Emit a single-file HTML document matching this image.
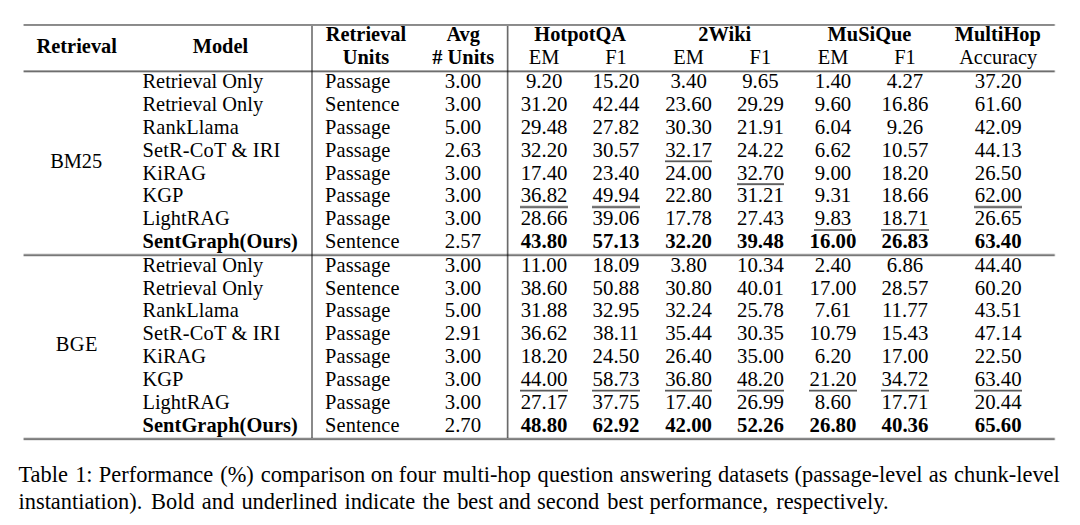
<!DOCTYPE html>
<html><head><meta charset="utf-8"><style>
html,body{margin:0;padding:0;background:#fff;}
body{width:1080px;height:525px;position:relative;overflow:hidden;font-family:"Liberation Serif","Times New Roman",serif;color:#000;}
.t{position:absolute;font-size:20.4px;line-height:24px;white-space:nowrap;}
.c{width:300px;text-align:center;}
.b{font-weight:bold;}
.n{font-size:20.8px;}
.r{position:absolute;}
.cap{position:absolute;left:18.5px;font-size:22.4px;line-height:24px;white-space:nowrap;}
</style></head><body>
<div class="t c b" style="left:-73.25px;top:33.70px">Retrieval</div>
<div class="t c b" style="left:70.40px;top:33.70px">Model</div>
<div class="t c b" style="left:216.00px;top:21.70px">Retrieval</div>
<div class="t c b" style="left:216.00px;top:44.60px">Units</div>
<div class="t c b" style="left:313.20px;top:21.70px">Avg</div>
<div class="t c b" style="left:313.20px;top:44.60px"># Units</div>
<div class="t c b" style="left:430.20px;top:21.70px">HotpotQA</div>
<div class="t c b" style="left:574.80px;top:21.70px">2Wiki</div>
<div class="t c b" style="left:719.50px;top:21.70px">MuSiQue</div>
<div class="t c b" style="left:847.80px;top:21.70px">MultiHop</div>
<div class="t c" style="left:394.10px;top:44.60px">EM</div>
<div class="t c" style="left:466.00px;top:44.60px">F1</div>
<div class="t c" style="left:538.60px;top:44.60px">EM</div>
<div class="t c" style="left:610.40px;top:44.60px">F1</div>
<div class="t c" style="left:683.00px;top:44.60px">EM</div>
<div class="t c" style="left:755.00px;top:44.60px">F1</div>
<div class="t c" style="left:848.20px;top:44.60px">Accuracy</div>
<div class="t" style="left:142.50px;top:69.00px">Retrieval Only</div>
<div class="t" style="left:325.00px;top:69.00px"><span style="letter-spacing:0.12px">Passage</span></div>
<div class="t c n" style="left:312.95px;top:69.00px">3.00</div>
<div class="t c n" style="left:394.10px;top:69.00px">9.20</div>
<div class="t c n" style="left:466.00px;top:69.00px">15.20</div>
<div class="t c n" style="left:538.60px;top:69.00px">3.40</div>
<div class="t c n" style="left:610.40px;top:69.00px">9.65</div>
<div class="t c n" style="left:683.00px;top:69.00px">1.40</div>
<div class="t c n" style="left:755.00px;top:69.00px">4.27</div>
<div class="t c n" style="left:848.20px;top:69.00px">37.20</div>
<div class="t" style="left:142.50px;top:92.00px">Retrieval Only</div>
<div class="t" style="left:325.00px;top:92.00px"><span style="letter-spacing:0.12px">Sentence</span></div>
<div class="t c n" style="left:312.95px;top:92.00px">3.00</div>
<div class="t c n" style="left:394.10px;top:92.00px">31.20</div>
<div class="t c n" style="left:466.00px;top:92.00px">42.44</div>
<div class="t c n" style="left:538.60px;top:92.00px">23.60</div>
<div class="t c n" style="left:610.40px;top:92.00px">29.29</div>
<div class="t c n" style="left:683.00px;top:92.00px">9.60</div>
<div class="t c n" style="left:755.00px;top:92.00px">16.86</div>
<div class="t c n" style="left:848.20px;top:92.00px">61.60</div>
<div class="t" style="left:142.50px;top:115.00px"><span style="letter-spacing:0.16px">RankLlama</span></div>
<div class="t" style="left:325.00px;top:115.00px"><span style="letter-spacing:0.12px">Passage</span></div>
<div class="t c n" style="left:312.95px;top:115.00px">5.00</div>
<div class="t c n" style="left:394.10px;top:115.00px">29.48</div>
<div class="t c n" style="left:466.00px;top:115.00px">27.82</div>
<div class="t c n" style="left:538.60px;top:115.00px">30.30</div>
<div class="t c n" style="left:610.40px;top:115.00px">21.91</div>
<div class="t c n" style="left:683.00px;top:115.00px">6.04</div>
<div class="t c n" style="left:755.00px;top:115.00px">9.26</div>
<div class="t c n" style="left:848.20px;top:115.00px">42.09</div>
<div class="t" style="left:142.50px;top:138.00px"><span style="letter-spacing:0.17px">SetR-CoT &amp; IRI</span></div>
<div class="t" style="left:325.00px;top:138.00px"><span style="letter-spacing:0.12px">Passage</span></div>
<div class="t c n" style="left:312.95px;top:138.00px">2.63</div>
<div class="t c n" style="left:394.10px;top:138.00px">32.20</div>
<div class="t c n" style="left:466.00px;top:138.00px">30.57</div>
<div class="t c n" style="left:538.60px;top:138.00px">32.17</div>
<div class="r" style="left:664.85px;top:160px;width:47.50px;height:1px;background:#a0a0a0"></div>
<div class="r" style="left:664.85px;top:161px;width:47.50px;height:1px;background:#5a5a5a"></div>
<div class="r" style="left:664.85px;top:162px;width:47.50px;height:1px;background:#e0e0e0"></div>
<div class="t c n" style="left:610.40px;top:138.00px">24.22</div>
<div class="t c n" style="left:683.00px;top:138.00px">6.62</div>
<div class="t c n" style="left:755.00px;top:138.00px">10.57</div>
<div class="t c n" style="left:848.20px;top:138.00px">44.13</div>
<div class="t" style="left:142.50px;top:161.00px">KiRAG</div>
<div class="t" style="left:325.00px;top:161.00px"><span style="letter-spacing:0.12px">Passage</span></div>
<div class="t c n" style="left:312.95px;top:161.00px">3.00</div>
<div class="t c n" style="left:394.10px;top:161.00px">17.40</div>
<div class="t c n" style="left:466.00px;top:161.00px">23.40</div>
<div class="t c n" style="left:538.60px;top:161.00px">24.00</div>
<div class="t c n" style="left:610.40px;top:161.00px">32.70</div>
<div class="r" style="left:736.65px;top:183px;width:47.50px;height:1px;background:#808080"></div>
<div class="r" style="left:736.65px;top:184px;width:47.50px;height:1px;background:#606060"></div>
<div class="r" style="left:736.65px;top:185px;width:47.50px;height:1px;background:#e8e8e8"></div>
<div class="t c n" style="left:683.00px;top:161.00px">9.00</div>
<div class="t c n" style="left:755.00px;top:161.00px">18.20</div>
<div class="t c n" style="left:848.20px;top:161.00px">26.50</div>
<div class="t" style="left:142.50px;top:183.00px">KGP</div>
<div class="t" style="left:325.00px;top:183.00px"><span style="letter-spacing:0.12px">Passage</span></div>
<div class="t c n" style="left:312.95px;top:183.00px">3.00</div>
<div class="t c n" style="left:394.10px;top:183.00px">36.82</div>
<div class="r" style="left:520.35px;top:205px;width:47.50px;height:1px;background:#e0e0e0"></div>
<div class="r" style="left:520.35px;top:206px;width:47.50px;height:1px;background:#7a7a7a"></div>
<div class="r" style="left:520.35px;top:207px;width:47.50px;height:1px;background:#6e6e6e"></div>
<div class="r" style="left:520.35px;top:208px;width:47.50px;height:1px;background:#d8d8d8"></div>
<div class="t c n" style="left:466.00px;top:183.00px">49.94</div>
<div class="r" style="left:592.25px;top:205px;width:47.50px;height:1px;background:#e0e0e0"></div>
<div class="r" style="left:592.25px;top:206px;width:47.50px;height:1px;background:#7a7a7a"></div>
<div class="r" style="left:592.25px;top:207px;width:47.50px;height:1px;background:#6e6e6e"></div>
<div class="r" style="left:592.25px;top:208px;width:47.50px;height:1px;background:#d8d8d8"></div>
<div class="t c n" style="left:538.60px;top:183.00px">22.80</div>
<div class="t c n" style="left:610.40px;top:183.00px">31.21</div>
<div class="t c n" style="left:683.00px;top:183.00px">9.31</div>
<div class="t c n" style="left:755.00px;top:183.00px">18.66</div>
<div class="t c n" style="left:848.20px;top:183.00px">62.00</div>
<div class="r" style="left:974.45px;top:205px;width:47.50px;height:1px;background:#e0e0e0"></div>
<div class="r" style="left:974.45px;top:206px;width:47.50px;height:1px;background:#7a7a7a"></div>
<div class="r" style="left:974.45px;top:207px;width:47.50px;height:1px;background:#6e6e6e"></div>
<div class="r" style="left:974.45px;top:208px;width:47.50px;height:1px;background:#d8d8d8"></div>
<div class="t" style="left:142.50px;top:206.00px">LightRAG</div>
<div class="t" style="left:325.00px;top:206.00px"><span style="letter-spacing:0.12px">Passage</span></div>
<div class="t c n" style="left:312.95px;top:206.00px">3.00</div>
<div class="t c n" style="left:394.10px;top:206.00px">28.66</div>
<div class="t c n" style="left:466.00px;top:206.00px">39.06</div>
<div class="t c n" style="left:538.60px;top:206.00px">17.78</div>
<div class="t c n" style="left:610.40px;top:206.00px">27.43</div>
<div class="t c n" style="left:683.00px;top:206.00px">9.83</div>
<div class="r" style="left:814.45px;top:229px;width:37.10px;height:1px;background:#787878"></div>
<div class="r" style="left:814.45px;top:230px;width:37.10px;height:1px;background:#787878"></div>
<div class="t c n" style="left:755.00px;top:206.00px">18.71</div>
<div class="r" style="left:881.25px;top:229px;width:47.50px;height:1px;background:#787878"></div>
<div class="r" style="left:881.25px;top:230px;width:47.50px;height:1px;background:#787878"></div>
<div class="t c n" style="left:848.20px;top:206.00px">26.65</div>
<div class="t b" style="left:142.50px;top:229.00px"><span style="letter-spacing:0.09px">SentGraph(Ours)</span></div>
<div class="t" style="left:325.00px;top:229.00px"><span style="letter-spacing:0.12px">Sentence</span></div>
<div class="t c n" style="left:312.95px;top:229.00px">2.57</div>
<div class="t c b n" style="left:394.10px;top:229.00px">43.80</div>
<div class="t c b n" style="left:466.00px;top:229.00px">57.13</div>
<div class="t c b n" style="left:538.60px;top:229.00px">32.20</div>
<div class="t c b n" style="left:610.40px;top:229.00px">39.48</div>
<div class="t c b n" style="left:683.00px;top:229.00px">16.00</div>
<div class="t c b n" style="left:755.00px;top:229.00px">26.83</div>
<div class="t c b n" style="left:848.20px;top:229.00px">63.40</div>
<div class="t" style="left:142.50px;top:253.00px">Retrieval Only</div>
<div class="t" style="left:325.00px;top:253.00px"><span style="letter-spacing:0.12px">Passage</span></div>
<div class="t c n" style="left:312.95px;top:253.00px">3.00</div>
<div class="t c n" style="left:394.10px;top:253.00px">11.00</div>
<div class="t c n" style="left:466.00px;top:253.00px">18.09</div>
<div class="t c n" style="left:538.60px;top:253.00px">3.80</div>
<div class="t c n" style="left:610.40px;top:253.00px">10.34</div>
<div class="t c n" style="left:683.00px;top:253.00px">2.40</div>
<div class="t c n" style="left:755.00px;top:253.00px">6.86</div>
<div class="t c n" style="left:848.20px;top:253.00px">44.40</div>
<div class="t" style="left:142.50px;top:276.00px">Retrieval Only</div>
<div class="t" style="left:325.00px;top:276.00px"><span style="letter-spacing:0.12px">Sentence</span></div>
<div class="t c n" style="left:312.95px;top:276.00px">3.00</div>
<div class="t c n" style="left:394.10px;top:276.00px">38.60</div>
<div class="t c n" style="left:466.00px;top:276.00px">50.88</div>
<div class="t c n" style="left:538.60px;top:276.00px">30.80</div>
<div class="t c n" style="left:610.40px;top:276.00px">40.01</div>
<div class="t c n" style="left:683.00px;top:276.00px">17.00</div>
<div class="t c n" style="left:755.00px;top:276.00px">28.57</div>
<div class="t c n" style="left:848.20px;top:276.00px">60.20</div>
<div class="t" style="left:142.50px;top:298.00px"><span style="letter-spacing:0.16px">RankLlama</span></div>
<div class="t" style="left:325.00px;top:298.00px"><span style="letter-spacing:0.12px">Passage</span></div>
<div class="t c n" style="left:312.95px;top:298.00px">5.00</div>
<div class="t c n" style="left:394.10px;top:298.00px">31.88</div>
<div class="t c n" style="left:466.00px;top:298.00px">32.95</div>
<div class="t c n" style="left:538.60px;top:298.00px">32.24</div>
<div class="t c n" style="left:610.40px;top:298.00px">25.78</div>
<div class="t c n" style="left:683.00px;top:298.00px">7.61</div>
<div class="t c n" style="left:755.00px;top:298.00px">11.77</div>
<div class="t c n" style="left:848.20px;top:298.00px">43.51</div>
<div class="t" style="left:142.50px;top:321.00px"><span style="letter-spacing:0.17px">SetR-CoT &amp; IRI</span></div>
<div class="t" style="left:325.00px;top:321.00px"><span style="letter-spacing:0.12px">Passage</span></div>
<div class="t c n" style="left:312.95px;top:321.00px">2.91</div>
<div class="t c n" style="left:394.10px;top:321.00px">36.62</div>
<div class="t c n" style="left:466.00px;top:321.00px">38.11</div>
<div class="t c n" style="left:538.60px;top:321.00px">35.44</div>
<div class="t c n" style="left:610.40px;top:321.00px">30.35</div>
<div class="t c n" style="left:683.00px;top:321.00px">10.79</div>
<div class="t c n" style="left:755.00px;top:321.00px">15.43</div>
<div class="t c n" style="left:848.20px;top:321.00px">47.14</div>
<div class="t" style="left:142.50px;top:344.00px">KiRAG</div>
<div class="t" style="left:325.00px;top:344.00px"><span style="letter-spacing:0.12px">Passage</span></div>
<div class="t c n" style="left:312.95px;top:344.00px">3.00</div>
<div class="t c n" style="left:394.10px;top:344.00px">18.20</div>
<div class="t c n" style="left:466.00px;top:344.00px">24.50</div>
<div class="t c n" style="left:538.60px;top:344.00px">26.40</div>
<div class="t c n" style="left:610.40px;top:344.00px">35.00</div>
<div class="t c n" style="left:683.00px;top:344.00px">6.20</div>
<div class="t c n" style="left:755.00px;top:344.00px">17.00</div>
<div class="t c n" style="left:848.20px;top:344.00px">22.50</div>
<div class="t" style="left:142.50px;top:367.00px">KGP</div>
<div class="t" style="left:325.00px;top:367.00px"><span style="letter-spacing:0.12px">Passage</span></div>
<div class="t c n" style="left:312.95px;top:367.00px">3.00</div>
<div class="t c n" style="left:394.10px;top:367.00px">44.00</div>
<div class="r" style="left:520.35px;top:389px;width:47.50px;height:1px;background:#d8d8d8"></div>
<div class="r" style="left:520.35px;top:390px;width:47.50px;height:1px;background:#5a5a5a"></div>
<div class="r" style="left:520.35px;top:391px;width:47.50px;height:1px;background:#a8a8a8"></div>
<div class="t c n" style="left:466.00px;top:367.00px">58.73</div>
<div class="r" style="left:592.25px;top:389px;width:47.50px;height:1px;background:#d8d8d8"></div>
<div class="r" style="left:592.25px;top:390px;width:47.50px;height:1px;background:#5a5a5a"></div>
<div class="r" style="left:592.25px;top:391px;width:47.50px;height:1px;background:#a8a8a8"></div>
<div class="t c n" style="left:538.60px;top:367.00px">36.80</div>
<div class="r" style="left:664.85px;top:389px;width:47.50px;height:1px;background:#d8d8d8"></div>
<div class="r" style="left:664.85px;top:390px;width:47.50px;height:1px;background:#5a5a5a"></div>
<div class="r" style="left:664.85px;top:391px;width:47.50px;height:1px;background:#a8a8a8"></div>
<div class="t c n" style="left:610.40px;top:367.00px">48.20</div>
<div class="r" style="left:736.65px;top:389px;width:47.50px;height:1px;background:#d8d8d8"></div>
<div class="r" style="left:736.65px;top:390px;width:47.50px;height:1px;background:#5a5a5a"></div>
<div class="r" style="left:736.65px;top:391px;width:47.50px;height:1px;background:#a8a8a8"></div>
<div class="t c n" style="left:683.00px;top:367.00px">21.20</div>
<div class="r" style="left:809.25px;top:389px;width:47.50px;height:1px;background:#d8d8d8"></div>
<div class="r" style="left:809.25px;top:390px;width:47.50px;height:1px;background:#5a5a5a"></div>
<div class="r" style="left:809.25px;top:391px;width:47.50px;height:1px;background:#a8a8a8"></div>
<div class="t c n" style="left:755.00px;top:367.00px">34.72</div>
<div class="r" style="left:881.25px;top:389px;width:47.50px;height:1px;background:#d8d8d8"></div>
<div class="r" style="left:881.25px;top:390px;width:47.50px;height:1px;background:#5a5a5a"></div>
<div class="r" style="left:881.25px;top:391px;width:47.50px;height:1px;background:#a8a8a8"></div>
<div class="t c n" style="left:848.20px;top:367.00px">63.40</div>
<div class="r" style="left:974.45px;top:389px;width:47.50px;height:1px;background:#d8d8d8"></div>
<div class="r" style="left:974.45px;top:390px;width:47.50px;height:1px;background:#5a5a5a"></div>
<div class="r" style="left:974.45px;top:391px;width:47.50px;height:1px;background:#a8a8a8"></div>
<div class="t" style="left:142.50px;top:390.00px">LightRAG</div>
<div class="t" style="left:325.00px;top:390.00px"><span style="letter-spacing:0.12px">Passage</span></div>
<div class="t c n" style="left:312.95px;top:390.00px">3.00</div>
<div class="t c n" style="left:394.10px;top:390.00px">27.17</div>
<div class="t c n" style="left:466.00px;top:390.00px">37.75</div>
<div class="t c n" style="left:538.60px;top:390.00px">17.40</div>
<div class="t c n" style="left:610.40px;top:390.00px">26.99</div>
<div class="t c n" style="left:683.00px;top:390.00px">8.60</div>
<div class="t c n" style="left:755.00px;top:390.00px">17.71</div>
<div class="t c n" style="left:848.20px;top:390.00px">20.44</div>
<div class="t b" style="left:142.50px;top:413.00px"><span style="letter-spacing:0.09px">SentGraph(Ours)</span></div>
<div class="t" style="left:325.00px;top:413.00px"><span style="letter-spacing:0.12px">Sentence</span></div>
<div class="t c n" style="left:312.95px;top:413.00px">2.70</div>
<div class="t c b n" style="left:394.10px;top:413.00px">48.80</div>
<div class="t c b n" style="left:466.00px;top:413.00px">62.92</div>
<div class="t c b n" style="left:538.60px;top:413.00px">42.00</div>
<div class="t c b n" style="left:610.40px;top:413.00px">52.26</div>
<div class="t c b n" style="left:683.00px;top:413.00px">26.80</div>
<div class="t c b n" style="left:755.00px;top:413.00px">40.36</div>
<div class="t c b n" style="left:848.20px;top:413.00px">65.60</div>
<div class="t c" style="left:-73.80px;top:149.00px">BM25</div>
<div class="t c" style="left:-73.40px;top:332.00px"><span style="letter-spacing:0.4px;margin-right:-0.4px">BGE</span></div>
<div class="r" style="left:24px;top:24px;width:1030px;height:1px;background:#8a8a8a"></div>
<div class="r" style="left:24px;top:25px;width:1030px;height:1px;background:#8e8e8e"></div>
<div class="r" style="left:24px;top:70px;width:287px;height:1px;background:#a8a8a8"></div>
<div class="r" style="left:313px;top:70px;width:193px;height:1px;background:#a8a8a8"></div>
<div class="r" style="left:509px;top:70px;width:545px;height:1px;background:#a8a8a8"></div>
<div class="r" style="left:24px;top:71px;width:287px;height:1px;background:#6e6e6e"></div>
<div class="r" style="left:313px;top:71px;width:193px;height:1px;background:#6e6e6e"></div>
<div class="r" style="left:509px;top:71px;width:545px;height:1px;background:#6e6e6e"></div>
<div class="r" style="left:24px;top:72px;width:287px;height:1px;background:#d0d0d0"></div>
<div class="r" style="left:313px;top:72px;width:193px;height:1px;background:#d0d0d0"></div>
<div class="r" style="left:509px;top:72px;width:545px;height:1px;background:#d0d0d0"></div>
<div class="r" style="left:24px;top:253px;width:287px;height:1px;background:#e8e8e8"></div>
<div class="r" style="left:313px;top:253px;width:193px;height:1px;background:#e8e8e8"></div>
<div class="r" style="left:509px;top:253px;width:545px;height:1px;background:#e8e8e8"></div>
<div class="r" style="left:24px;top:254px;width:287px;height:1px;background:#9a9a9a"></div>
<div class="r" style="left:313px;top:254px;width:193px;height:1px;background:#9a9a9a"></div>
<div class="r" style="left:509px;top:254px;width:545px;height:1px;background:#9a9a9a"></div>
<div class="r" style="left:24px;top:255px;width:287px;height:1px;background:#787878"></div>
<div class="r" style="left:313px;top:255px;width:193px;height:1px;background:#787878"></div>
<div class="r" style="left:509px;top:255px;width:545px;height:1px;background:#787878"></div>
<div class="r" style="left:24px;top:256px;width:287px;height:1px;background:#e0e0e0"></div>
<div class="r" style="left:313px;top:256px;width:193px;height:1px;background:#e0e0e0"></div>
<div class="r" style="left:509px;top:256px;width:545px;height:1px;background:#e0e0e0"></div>
<div class="r" style="left:24px;top:437px;width:287px;height:1px;background:#e0e0e0"></div>
<div class="r" style="left:313px;top:437px;width:193px;height:1px;background:#e0e0e0"></div>
<div class="r" style="left:509px;top:437px;width:545px;height:1px;background:#e0e0e0"></div>
<div class="r" style="left:24px;top:438px;width:1030px;height:1px;background:#8a8a8a"></div>
<div class="r" style="left:24px;top:439px;width:1030px;height:1px;background:#7c7c7c"></div>
<div class="r" style="left:24px;top:440px;width:1030px;height:1px;background:#e8e8e8"></div>
<div class="r" style="left:23px;top:24px;width:1px;height:1px;background:#cacaca"></div>
<div class="r" style="left:23px;top:25px;width:1px;height:1px;background:#cccccc"></div>
<div class="r" style="left:23px;top:70px;width:1px;height:1px;background:#d8d8d8"></div>
<div class="r" style="left:23px;top:71px;width:1px;height:1px;background:#bebebe"></div>
<div class="r" style="left:23px;top:72px;width:1px;height:1px;background:#eaeaea"></div>
<div class="r" style="left:23px;top:253px;width:1px;height:1px;background:#f5f5f5"></div>
<div class="r" style="left:23px;top:254px;width:1px;height:1px;background:#d2d2d2"></div>
<div class="r" style="left:23px;top:255px;width:1px;height:1px;background:#c2c2c2"></div>
<div class="r" style="left:23px;top:256px;width:1px;height:1px;background:#f1f1f1"></div>
<div class="r" style="left:23px;top:437px;width:1px;height:1px;background:#f1f1f1"></div>
<div class="r" style="left:23px;top:438px;width:1px;height:1px;background:#cacaca"></div>
<div class="r" style="left:23px;top:439px;width:1px;height:1px;background:#c4c4c4"></div>
<div class="r" style="left:23px;top:440px;width:1px;height:1px;background:#f5f5f5"></div>
<div class="r" style="left:311px;top:26px;width:1px;height:44px;background:#8a8a8a"></div>
<div class="r" style="left:311px;top:70px;width:1px;height:1px;background:#5b5b5b"></div>
<div class="r" style="left:311px;top:71px;width:1px;height:1px;background:#3c3c3c"></div>
<div class="r" style="left:311px;top:72px;width:1px;height:1px;background:#717171"></div>
<div class="r" style="left:311px;top:73px;width:1px;height:180px;background:#8a8a8a"></div>
<div class="r" style="left:311px;top:253px;width:1px;height:1px;background:#7e7e7e"></div>
<div class="r" style="left:311px;top:254px;width:1px;height:1px;background:#535353"></div>
<div class="r" style="left:311px;top:255px;width:1px;height:1px;background:#414141"></div>
<div class="r" style="left:311px;top:256px;width:1px;height:1px;background:#797979"></div>
<div class="r" style="left:311px;top:257px;width:1px;height:180px;background:#8a8a8a"></div>
<div class="r" style="left:311px;top:437px;width:1px;height:1px;background:#797979"></div>
<div class="r" style="left:312px;top:26px;width:1px;height:44px;background:#8a8a8a"></div>
<div class="r" style="left:312px;top:70px;width:1px;height:1px;background:#5b5b5b"></div>
<div class="r" style="left:312px;top:71px;width:1px;height:1px;background:#3c3c3c"></div>
<div class="r" style="left:312px;top:72px;width:1px;height:1px;background:#717171"></div>
<div class="r" style="left:312px;top:73px;width:1px;height:180px;background:#8a8a8a"></div>
<div class="r" style="left:312px;top:253px;width:1px;height:1px;background:#7e7e7e"></div>
<div class="r" style="left:312px;top:254px;width:1px;height:1px;background:#535353"></div>
<div class="r" style="left:312px;top:255px;width:1px;height:1px;background:#414141"></div>
<div class="r" style="left:312px;top:256px;width:1px;height:1px;background:#797979"></div>
<div class="r" style="left:312px;top:257px;width:1px;height:180px;background:#8a8a8a"></div>
<div class="r" style="left:312px;top:437px;width:1px;height:1px;background:#797979"></div>
<div class="r" style="left:506px;top:26px;width:1px;height:44px;background:#e0e0e0"></div>
<div class="r" style="left:506px;top:70px;width:1px;height:1px;background:#949494"></div>
<div class="r" style="left:506px;top:71px;width:1px;height:1px;background:#616161"></div>
<div class="r" style="left:506px;top:72px;width:1px;height:1px;background:#b7b7b7"></div>
<div class="r" style="left:506px;top:73px;width:1px;height:180px;background:#e0e0e0"></div>
<div class="r" style="left:506px;top:253px;width:1px;height:1px;background:#cccccc"></div>
<div class="r" style="left:506px;top:254px;width:1px;height:1px;background:#878787"></div>
<div class="r" style="left:506px;top:255px;width:1px;height:1px;background:#696969"></div>
<div class="r" style="left:506px;top:256px;width:1px;height:1px;background:#c5c5c5"></div>
<div class="r" style="left:506px;top:257px;width:1px;height:180px;background:#e0e0e0"></div>
<div class="r" style="left:506px;top:437px;width:1px;height:1px;background:#c5c5c5"></div>
<div class="r" style="left:507px;top:26px;width:1px;height:44px;background:#6a6a6a"></div>
<div class="r" style="left:507px;top:70px;width:1px;height:1px;background:#464646"></div>
<div class="r" style="left:507px;top:71px;width:1px;height:1px;background:#2e2e2e"></div>
<div class="r" style="left:507px;top:72px;width:1px;height:1px;background:#565656"></div>
<div class="r" style="left:507px;top:73px;width:1px;height:180px;background:#6a6a6a"></div>
<div class="r" style="left:507px;top:253px;width:1px;height:1px;background:#606060"></div>
<div class="r" style="left:507px;top:254px;width:1px;height:1px;background:#404040"></div>
<div class="r" style="left:507px;top:255px;width:1px;height:1px;background:#323232"></div>
<div class="r" style="left:507px;top:256px;width:1px;height:1px;background:#5d5d5d"></div>
<div class="r" style="left:507px;top:257px;width:1px;height:180px;background:#6a6a6a"></div>
<div class="r" style="left:507px;top:437px;width:1px;height:1px;background:#5d5d5d"></div>
<div class="r" style="left:508px;top:26px;width:1px;height:44px;background:#b8b8b8"></div>
<div class="r" style="left:508px;top:70px;width:1px;height:1px;background:#797979"></div>
<div class="r" style="left:508px;top:71px;width:1px;height:1px;background:#4f4f4f"></div>
<div class="r" style="left:508px;top:72px;width:1px;height:1px;background:#969696"></div>
<div class="r" style="left:508px;top:73px;width:1px;height:180px;background:#b8b8b8"></div>
<div class="r" style="left:508px;top:253px;width:1px;height:1px;background:#a7a7a7"></div>
<div class="r" style="left:508px;top:254px;width:1px;height:1px;background:#6f6f6f"></div>
<div class="r" style="left:508px;top:255px;width:1px;height:1px;background:#575757"></div>
<div class="r" style="left:508px;top:256px;width:1px;height:1px;background:#a2a2a2"></div>
<div class="r" style="left:508px;top:257px;width:1px;height:180px;background:#b8b8b8"></div>
<div class="r" style="left:508px;top:437px;width:1px;height:1px;background:#a2a2a2"></div>
<div class="r" style="left:1054px;top:24px;width:1px;height:1px;background:#adadad"></div>
<div class="r" style="left:1054px;top:25px;width:1px;height:1px;background:#b0b0b0"></div>
<div class="r" style="left:1054px;top:70px;width:1px;height:1px;background:#c2c2c2"></div>
<div class="r" style="left:1054px;top:71px;width:1px;height:1px;background:#9a9a9a"></div>
<div class="r" style="left:1054px;top:72px;width:1px;height:1px;background:#dedede"></div>
<div class="r" style="left:1054px;top:253px;width:1px;height:1px;background:#efefef"></div>
<div class="r" style="left:1054px;top:254px;width:1px;height:1px;background:#b8b8b8"></div>
<div class="r" style="left:1054px;top:255px;width:1px;height:1px;background:#a0a0a0"></div>
<div class="r" style="left:1054px;top:256px;width:1px;height:1px;background:#e9e9e9"></div>
<div class="r" style="left:1054px;top:437px;width:1px;height:1px;background:#e9e9e9"></div>
<div class="r" style="left:1054px;top:438px;width:1px;height:1px;background:#adadad"></div>
<div class="r" style="left:1054px;top:439px;width:1px;height:1px;background:#a3a3a3"></div>
<div class="r" style="left:1054px;top:440px;width:1px;height:1px;background:#efefef"></div>
<div class="r" style="left:1055px;top:24px;width:1px;height:2px;background:#f1f1f1"></div>
<div class="r" style="left:1055px;top:70px;width:1px;height:1px;background:#f5f5f5"></div>
<div class="r" style="left:1055px;top:71px;width:1px;height:1px;background:#eeeeee"></div>
<div class="r" style="left:1055px;top:72px;width:1px;height:1px;background:#f9f9f9"></div>
<div class="r" style="left:1055px;top:253px;width:1px;height:1px;background:#fcfcfc"></div>
<div class="r" style="left:1055px;top:254px;width:1px;height:1px;background:#f3f3f3"></div>
<div class="r" style="left:1055px;top:255px;width:1px;height:1px;background:#efefef"></div>
<div class="r" style="left:1055px;top:256px;width:1px;height:1px;background:#fbfbfb"></div>
<div class="r" style="left:1055px;top:437px;width:1px;height:1px;background:#fbfbfb"></div>
<div class="r" style="left:1055px;top:438px;width:1px;height:1px;background:#f1f1f1"></div>
<div class="r" style="left:1055px;top:439px;width:1px;height:1px;background:#efefef"></div>
<div class="r" style="left:1055px;top:440px;width:1px;height:1px;background:#fcfcfc"></div>
<div class="cap" id="cap1" style="top:462.60px;width:1040px;text-align:justify;text-align-last:justify;">Table <span style="position:relative;left:1px">1:</span> <span style="position:relative;left:1px">Performance</span> <span style="position:relative;left:1.7px">(%)</span> <span style="position:relative;left:2.4px">comparison</span> <span style="position:relative;left:1.7px">on</span> <span style="position:relative;left:1px">four</span> <span style="position:relative;left:1.3px">multi-hop</span> <span style="position:relative;left:1.7px">question</span> <span style="position:relative;left:1.7px">answering</span> <span style="position:relative;left:1.6px">datasets</span> <span style="position:relative;left:1px">(passage-level</span> <span style="position:relative;left:1px">as</span> <span style="position:relative;left:1.3px">chunk-level</span></div>
<div class="cap" id="cap2" style="top:489.90px;word-spacing:1.65px;">instantiation). <span style="position:relative;left:1.5px">Bold</span> <span style="position:relative;left:1.5px">and</span> <span style="position:relative;left:1.5px">underlined</span> <span style="position:relative;left:1.5px">indicate</span> <span style="position:relative;left:1.5px">the</span> <span style="position:relative;left:1.5px">best</span> <span style="position:relative;left:-0.5px">and</span> <span style="position:relative;left:-1.5px">second</span> <span style="position:relative;left:-0.7px">best</span> <span style="position:relative;left:-1.9px">performance,</span> <span style="position:relative;left:-1.1px">respectively.</span></div>
</body></html>
